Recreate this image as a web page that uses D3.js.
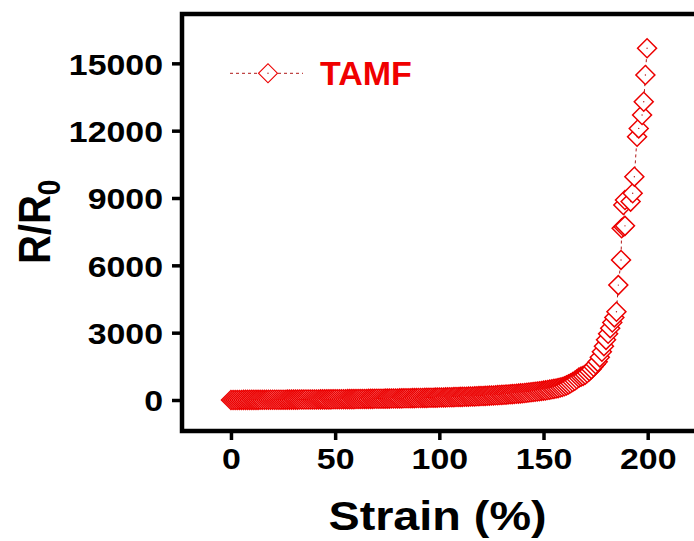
<!DOCTYPE html>
<html>
<head>
<meta charset="utf-8">
<script src="https://cdn.jsdelivr.net/npm/d3@7"></script>
<style>
  html, body { margin: 0; padding: 0; background: #fff; }
  svg { display: block; font-family: "Liberation Sans", Arial, sans-serif; }
</style>
</head>
<body>
<svg id="chart" width="694" height="541"></svg>
<script>
// Strain (%) readings and the matching normalised resistance R/R0
const strain = [
  0, 1, 2, 3, 4, 5, 6, 7, 8, 9,
  10, 11, 12, 13, 14, 15, 16, 17, 18, 19,
  20, 21, 22, 23, 24, 25, 26, 27, 28, 29,
  30, 31, 32, 33, 34, 35, 36, 37, 38, 39,
  40, 41, 42, 43, 44, 45, 46, 47, 48, 49,
  50, 51, 52, 53, 54, 55, 56, 57, 58, 59,
  60, 61, 62, 63, 64, 65, 66, 67, 68, 69,
  70, 71, 72, 73, 74, 75, 76, 77, 78, 79,
  80, 81, 82, 83, 84, 85, 86, 87, 88, 89,
  90, 91, 92, 93, 94, 95, 96, 97, 98, 99,
  100, 101, 102, 103, 104, 105, 106, 107, 108, 109,
  110, 111, 112, 113, 114, 115, 116, 117, 118, 119,
  120, 121, 122, 123, 124, 125, 126, 127, 128, 129,
  130, 131, 132, 133, 134, 135, 136, 137, 138, 139,
  140, 141, 142, 143, 144, 145, 146, 147, 148, 149,
  150, 151, 152, 153, 154, 155, 156, 157, 158, 159,
  160, 161, 162, 163, 164, 165, 166, 167, 168, 169,
  170, 171, 172, 173, 174, 175, 176, 177, 178, 179,
  180, 181, 182, 183, 184, 185,
  185.9, 187.2, 187.5, 188.4, 189.1, 188.3, 189.1, 191.8, 192.8, 193.6,
  194.9, 195.7, 197.3, 198.1, 198.9, 199.7
];
const ratio = [
  1, 1, 2, 2, 3, 3, 4, 4, 5, 5,
  6, 6, 7, 7, 8, 8, 9, 9, 10, 10,
  11, 11, 12, 12, 13, 14, 14, 15, 15, 16,
  17, 17, 18, 19, 19, 20, 21, 21, 22, 23,
  24, 24, 25, 26, 27, 28, 28, 29, 30, 31,
  32, 33, 34, 35, 36, 37, 38, 39, 40, 41,
  42, 43, 44, 46, 47, 48, 49, 51, 52, 53,
  55, 56, 58, 59, 60, 62, 63, 65, 67, 68,
  70, 71, 73, 75, 77, 78, 80, 82, 84, 86,
  88, 90, 92, 94, 96, 98, 101, 103, 105, 108,
  110, 113, 115, 118, 120, 123, 126, 129, 132, 135,
  138, 141, 145, 148, 152, 155, 159, 163, 167, 171,
  175, 180, 184, 189, 194, 199, 204, 210, 216, 222,
  228, 234, 241, 248, 255, 262, 270, 278, 286, 295,
  304, 313, 323, 333, 344, 355, 366, 378, 391, 404,
  417, 431, 446, 461, 477, 494, 512, 530, 555, 580,
  610, 650, 695, 745, 800, 860, 925, 995, 1040, 1075,
  1130, 1200, 1285, 1375, 1480, 1590, 1700, 1900, 2150, 2400,
  2680, 2950, 3200, 3450, 3680, 3930,
  5120, 6240, 7650, 7720, 7760, 8690, 8910, 8840, 9210, 9950,
  11730, 12100, 12700, 13290, 14480, 15670
];
const xTicks = [0, 50, 100, 150, 200];
const yTicks = [0, 3000, 6000, 9000, 12000, 15000];
const seriesName = "TAMF";

const svg = d3.select("#chart");
const plotLeft = 182, plotTop = 14, plotBottom = 431, plotRight = 740;

const x = d3.scaleLinear().domain([-23.5, 245]).range([plotLeft, 231 + 245 * 2.0835]);
const y = d3.scaleLinear().domain([-1381, 17198]).range([plotBottom, plotTop]);

const red = "#ec0000";
const lineRed = "#b01818";

// data: dashed connecting line beneath the symbols
const pts = strain.map((s, i) => [s, ratio[i]]);
svg.append("path")
  .attr("d", d3.line().x(d => x(d[0])).y(d => y(d[1]))(pts))
  .attr("fill", "none")
  .attr("stroke", lineRed)
  .attr("stroke-width", 1)
  .attr("stroke-dasharray", "3,3");

const diamond = d3.symbol(d3.symbolSquare, 180);
const marks = svg.append("g");
pts.forEach(d => {
  const g = marks.append("g").attr("transform", `translate(${x(d[0])},${y(d[1])})`);
  g.append("path").attr("d", diamond()).attr("transform", "rotate(45)")
    .attr("fill", "#fff").attr("stroke", red).attr("stroke-width", 1.5);
  g.append("circle").attr("r", 0.7).attr("fill", lineRed);
});

// axes
const fmt = d3.format("d");
const xAxis = svg.append("g").attr("transform", `translate(0,${plotBottom})`)
  .call(d3.axisBottom(x).tickValues(xTicks).tickFormat(fmt).tickSize(9).tickSizeOuter(0));
const yAxis = svg.append("g").attr("transform", `translate(${plotLeft},0)`)
  .call(d3.axisLeft(y).tickValues(yTicks).tickFormat(fmt).tickSize(10).tickSizeOuter(0));
[xAxis, yAxis].forEach(a => {
  a.select(".domain").remove();
  a.selectAll(".tick line").attr("stroke", "#000").attr("stroke-width", 3.5);
  a.selectAll(".tick text").attr("fill", "#000")
    .style("font-size", "30px").style("font-weight", "bold")
    .style("font-family", "'Liberation Sans', Arial, sans-serif");
});
xAxis.selectAll(".tick text").attr("x", 0).attr("y", 17).attr("dy", "0.71em")
  .attr("transform", "scale(1.13,1)");
yAxis.selectAll(".tick text").attr("x", -16.8).attr("dy", "0.36em")
  .attr("transform", "scale(1.13,1)");

// frame
svg.append("rect")
  .attr("x", plotLeft).attr("y", plotTop)
  .attr("width", plotRight - plotLeft).attr("height", plotBottom - plotTop)
  .attr("fill", "none").attr("stroke", "#000").attr("stroke-width", 4.5);

// axis titles
svg.append("text")
  .attr("transform", "translate(437.5,530) scale(1.14,1)")
  .attr("text-anchor", "middle")
  .style("font-size", "41px").style("font-weight", "bold")
  .text("Strain (%)");

const yTitle = svg.append("text")
  .attr("transform", "translate(50,264) scale(1.13,1) rotate(-90)")
  .style("font-size", "40px").style("font-weight", "bold");
yTitle.append("tspan").text("R/R");
yTitle.append("tspan").attr("dy", 9).style("font-size", "28px").text("0");

// legend
const ly = 73.3;
svg.append("line").attr("x1", 230).attr("x2", 303).attr("y1", ly).attr("y2", ly)
  .attr("stroke", lineRed).attr("stroke-width", 1).attr("stroke-dasharray", "3,3");
const lg = svg.append("g").attr("transform", `translate(268,${ly})`);
lg.append("path").attr("d", diamond()).attr("transform", "rotate(45)")
  .attr("fill", "#fff").attr("stroke", red).attr("stroke-width", 1.1);
lg.append("circle").attr("r", 0.7).attr("fill", lineRed);
svg.append("text").attr("x", 320).attr("y", 85)
  .attr("fill", "#f00000")
  .style("font-size", "34px").style("font-weight", "bold")
  .text(seriesName);
</script>
</body>
</html>
